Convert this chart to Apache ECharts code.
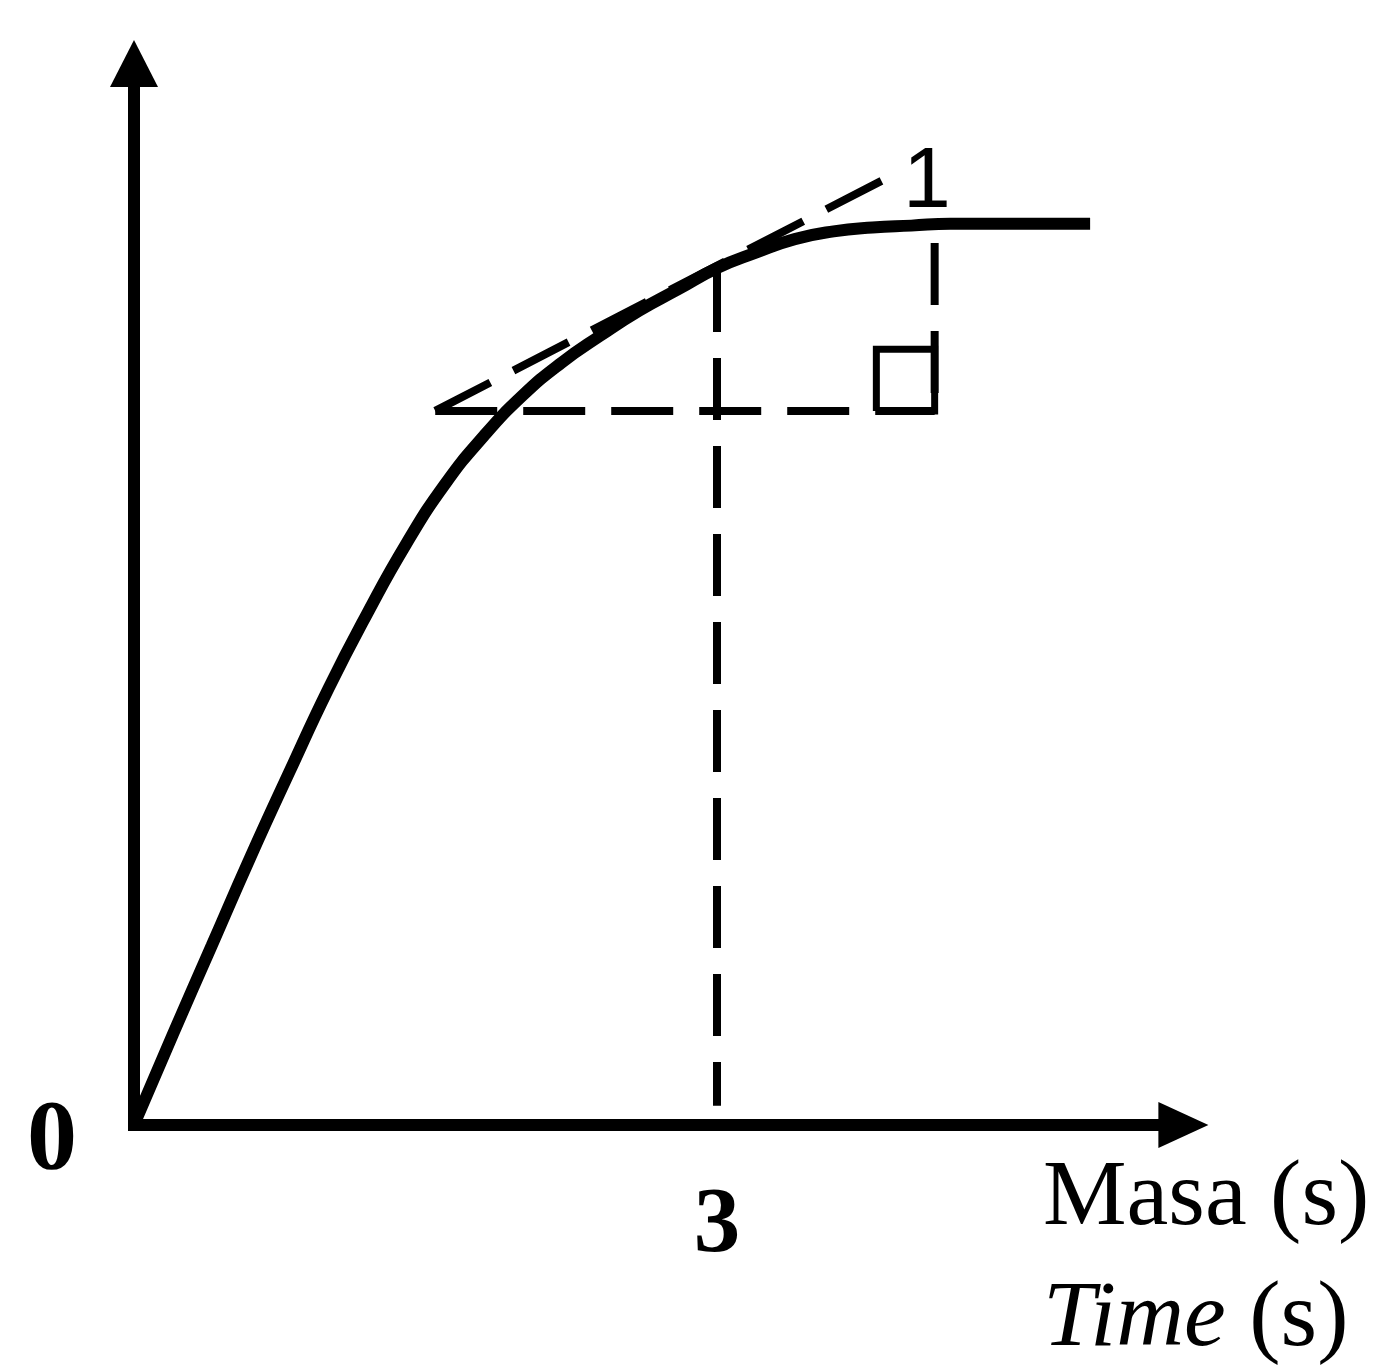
<!DOCTYPE html>
<html>
<head>
<meta charset="utf-8">
<script src="https://cdn.jsdelivr.net/npm/echarts@6/dist/echarts.min.js"></script>
<style>
  html, body { margin: 0; padding: 0; background: #ffffff; }
  #chart { width: 1381px; height: 1366px; }
</style>
</head>
<body>
<div id="chart"></div>
<script>
// Curve: rises steeply from the origin and levels off to a plateau
const timeS  = [0, 0.2, 0.4, 0.6, 0.8, 1.0, 1.2, 1.4, 1.6, 1.8, 2.0, 2.2, 2.4, 2.6, 2.8, 3.0, 3.2, 3.4, 3.6, 3.8, 4.0, 4.2, 4.4, 4.6, 4.8, 4.92];
const curveY = [0, 0.47, 0.93, 1.39, 1.83, 2.26, 2.65, 3.01, 3.32, 3.57, 3.78, 3.95, 4.09, 4.22, 4.33, 4.44, 4.52, 4.59, 4.63, 4.65, 4.66, 4.67, 4.67, 4.67, 4.67, 4.67];

// Tangent drawn at t = 3 s and its gradient triangle
const tangentX = [1.55, 3.92];
const tangentY = [3.70, 4.93];
const triBaseX = [1.55, 4.12];
const triBaseY = 3.70;
const triRiseX = 4.12;
const triRiseY = [4.57, 3.70];

// Drop line from the curve down to t = 3
const dropX = 3;
const dropY = [4.43, 0.10];

// Right-angle mark in the triangle's corner
const boxX = [3.82, 3.82, 4.12, 4.12, 3.82];
const boxY = [3.70, 4.02, 4.02, 3.70, 3.70];

// Text
const xTickShown = 3;
const yTickShown = 0;
const riseLabel = '1';
const riseLabelPos = [4.08, 4.88];
const xNameMs = 'Masa (s)';
const xNameEn = 'Time';

const pairs = (xs, ys) => xs.map((x, i) => [x, ys[i]]);
const serif = '"Liberation Serif", "Times New Roman", serif';
const dash = [62, 26];

const chart = echarts.init(document.getElementById('chart'), null, { renderer: 'canvas' });

chart.setOption({
  backgroundColor: '#ffffff',
  animation: false,
  grid: {
    left: 134, right: 197.6, top: 63.5, bottom: 241,
    containLabel: false, outerBoundsMode: 'none'
  },
  xAxis: {
    type: 'value', min: 0, max: 5.4, interval: 3,
    axisLine: {
      show: true, onZero: false,
      symbol: ['none', 'triangle'], symbolSize: [46, 50],
      lineStyle: { color: '#000', width: 12, cap: 'square' }
    },
    axisTick: { show: false },
    splitLine: { show: false },
    axisLabel: {
      show: true, showMaxLabel: false,
      formatter: v => (v === xTickShown ? String(v) : ''),
      margin: 102, verticalAlign: 'middle',
      color: '#000', fontFamily: serif, fontWeight: 'bold', fontSize: 93
    },
    name: xNameMs + '\n{i|' + xNameEn + '} (s)',
    nameLocation: 'end', nameGap: -140.4,
    nameTextStyle: {
      align: 'left', verticalAlign: 'top', padding: [14, 0, 0, 0],
      color: '#000', fontFamily: serif, fontSize: 94, lineHeight: 121,
      rich: {
        i: { fontStyle: 'italic', color: '#000', fontFamily: serif, fontSize: 94, lineHeight: 121 }
      }
    }
  },
  yAxis: {
    type: 'value', min: 0, max: 5.5, interval: 1,
    axisLine: {
      show: true, onZero: false,
      symbol: ['none', 'triangle'], symbolSize: [48, 47],
      lineStyle: { color: '#000', width: 12, cap: 'square' }
    },
    axisTick: { show: false },
    splitLine: { show: false },
    axisLabel: {
      show: true, showMaxLabel: false,
      formatter: v => (v === yTickShown ? String(v) : ''),
      margin: 57, verticalAlign: 'top', lineHeight: 34,
      color: '#000', fontFamily: serif, fontWeight: 'bold', fontSize: 100
    }
  },
  series: [
    {
      type: 'line', name: 'curve',
      data: pairs(timeS, curveY),
      smooth: 0.5,
      showSymbol: false, symbol: 'none',
      lineStyle: { color: '#000', width: 12 },
      z: 5
    },
    {
      type: 'line', name: 'tangent',
      data: pairs(tangentX, tangentY),
      showSymbol: false, symbol: 'none',
      lineStyle: { color: '#000', width: 8, type: dash }
    },
    {
      type: 'line', name: 'base',
      data: triBaseX.map(x => [x, triBaseY]),
      showSymbol: false, symbol: 'none',
      lineStyle: { color: '#000', width: 8, type: dash }
    },
    {
      type: 'line', name: 'rise',
      data: triRiseY.map(y => [triRiseX, y]),
      showSymbol: false, symbol: 'none',
      lineStyle: { color: '#000', width: 8, type: dash }
    },
    {
      type: 'line', name: 'drop',
      data: dropY.map(y => [dropX, y]),
      showSymbol: false, symbol: 'none',
      lineStyle: { color: '#000', width: 8, type: dash }
    },
    {
      type: 'line', name: 'rightAngle',
      data: pairs(boxX, boxY),
      showSymbol: false, symbol: 'none',
      lineStyle: { color: '#000', width: 7, join: 'miter' }
    },
    {
      type: 'scatter', name: 'riseLabel',
      data: [riseLabelPos],
      symbolSize: 0,
      itemStyle: { color: '#000', opacity: 1 },
      label: {
        show: true, position: 'inside', formatter: riseLabel,
        color: '#000', opacity: 1, textBorderWidth: 0,
        fontFamily: '"Liberation Sans", Arial, sans-serif', fontSize: 86
      }
    }
  ]
});
</script>
</body>
</html>
